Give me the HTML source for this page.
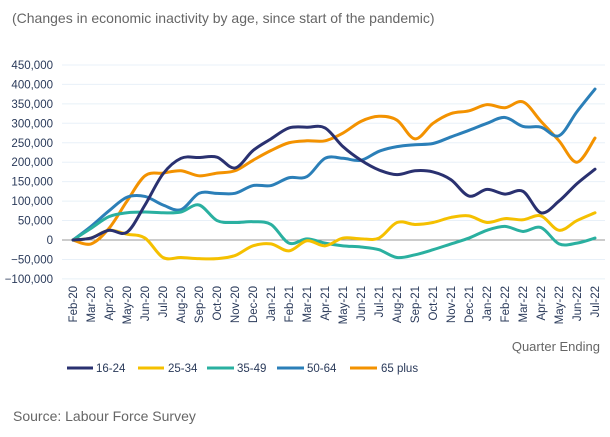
<!DOCTYPE html>
<html><head><meta charset="utf-8"><style>
body{margin:0;background:#fff;width:610px;height:432px;overflow:hidden;font-family:"Liberation Sans",sans-serif}
</style></head><body>
<svg id="s" width="610" height="432" xmlns="http://www.w3.org/2000/svg" font-family="Liberation Sans, sans-serif">
<text x="12" y="23" font-size="14" fill="#666">(Changes in economic inactivity by age, since start of the pandemic)</text>
<g id="grid"></g>
<g id="lines"></g>
<text x="600" y="351" font-size="13" fill="#666" text-anchor="end">Quarter Ending</text>
<g font-size="11.5" fill="#2a3a5a">
<line x1="67" y1="368" x2="93" y2="368" stroke="#2a3170" stroke-width="3"/><text x="96" y="372">16-24</text>
<line x1="138" y1="368" x2="164" y2="368" stroke="#f5c000" stroke-width="3"/><text x="168" y="372">25-34</text>
<line x1="207" y1="368" x2="234" y2="368" stroke="#2ab0a0" stroke-width="3"/><text x="237" y="372">35-49</text>
<line x1="277" y1="368" x2="304" y2="368" stroke="#2b7fb8" stroke-width="3"/><text x="307" y="372">50-64</text>
<line x1="350" y1="368" x2="377" y2="368" stroke="#f39200" stroke-width="3"/><text x="381" y="372">65 plus</text>
</g>
<text x="13" y="421" font-size="14" fill="#666">Source: Labour Force Survey</text>
</svg>
<script>
const NS="http://www.w3.org/2000/svg";
const s=document.getElementById('s'),g=document.getElementById('grid'),L=document.getElementById('lines');
const Y=v=>240-v*0.389,X=i=>73+18*i;
function el(p,n,a,t){const e=document.createElementNS(NS,n);for(const k in a)e.setAttribute(k,a[k]);if(t!==undefined)e.textContent=t;p.appendChild(e);return e;}
for(let v=-100;v<=450;v+=50){
 if(v!==0)el(g,'line',{x1:62,x2:605,y1:Y(v),y2:Y(v),stroke:'#e8f0f8','stroke-width':1});
 el(g,'text',{x:53,y:Y(v)+4,'font-size':11.5,fill:'#2a3a5a','text-anchor':'end'},(v<0?'\u2212':'')+(v===0?'0':Math.abs(v)+',000'));
}
el(g,'line',{x1:62,x2:605,y1:240,y2:240,stroke:'#999','stroke-width':1});
const m=['Feb-20','Mar-20','Apr-20','May-20','Jun-20','Jul-20','Aug-20','Sep-20','Oct-20','Nov-20','Dec-20','Jan-21','Feb-21','Mar-21','Apr-21','May-21','Jun-21','Jul-21','Aug-21','Sep-21','Oct-21','Nov-21','Dec-21','Jan-22','Feb-22','Mar-22','Apr-22','May-22','Jun-22','Jul-22'];
m.forEach((t,i)=>el(g,'text',{transform:`translate(${X(i)+4},286) rotate(-90)`,'font-size':11.5,fill:'#2a3a5a','text-anchor':'end'},t));
const D=[
['#f39200',[0,-10,30,100,165,172,178,165,172,178,205,230,250,255,255,275,305,318,308,260,300,325,332,348,340,355,305,255,200,262]],
['#2b7fb8',[0,35,75,110,112,90,78,120,120,120,140,140,160,163,210,210,205,228,240,245,248,265,282,300,315,292,290,268,330,388]],
['#2ab0a0',[0,30,60,70,72,70,72,90,50,45,47,40,-8,3,-8,-15,-18,-25,-45,-38,-25,-10,5,25,35,22,32,-10,-8,5]],
['#f5c000',[0,5,25,15,5,-45,-45,-48,-48,-40,-15,-10,-28,-2,-15,5,3,5,45,40,45,58,62,45,55,52,62,25,50,70]],
['#2a3170',[0,5,25,20,90,170,210,212,213,185,230,260,288,290,288,240,205,180,168,178,175,155,113,130,118,125,70,100,145,182]]];
D.forEach(([c,v])=>{
 const p=v.map((y,i)=>[X(i),Y(y)]);let d=`M${p[0]}`;
 for(let i=0;i<p.length-1;i++){const a=p[i-1]||p[i],b=p[i],c2=p[i+1],e=p[i+2]||c2;
  d+=` C${b[0]+(c2[0]-a[0])/6},${b[1]+(c2[1]-a[1])/6} ${c2[0]-(e[0]-b[0])/6},${c2[1]-(e[1]-b[1])/6} ${c2[0]},${c2[1]}`;}
 el(L,'path',{d,fill:'none',stroke:c,'stroke-width':3,'stroke-linejoin':'round','stroke-linecap':'round'});
});
</script>
</body></html>
